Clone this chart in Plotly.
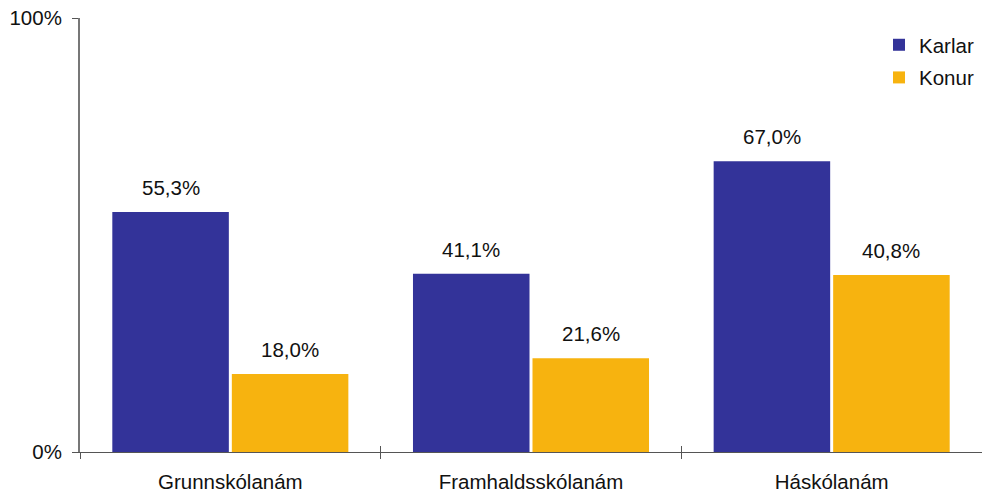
import plotly.graph_objects as go

categories = ["Grunnskólanám", "Framhaldsskólanám", "Háskólanám"]
series_names = ["Karlar", "Konur"]
karlar = [55.3, 41.1, 67.0]
konur = [18.0, 21.6, 40.8]
y_tick_vals = [0, 100]
y_tick_text = ["0%", "100%"]

colors = ["#333399", "#F7B30F"]
FONT = "Liberation Sans, Arial, sans-serif"
FS = 20.5

W, H = 982, 495
M_L, M_R, M_T, M_B = 80, 0, 18, 43
BARGAP = 0.205

def fmt(v):
    return f"{v:.1f}".replace(".", ",") + "%"

fig = go.Figure()
for name, vals, col in zip(series_names, [karlar, konur], colors):
    fig.add_trace(go.Bar(
        x=categories, y=vals, name=name, legendgroup=name,
        marker=dict(color=col, line=dict(width=0)),
        hoverinfo="skip",
    ))

# invisible trace on overlay axis for inner tick marks
fig.add_trace(go.Scatter(x=categories, y=[0, 0, 0], xaxis="x2", yaxis="y",
                         mode="markers", marker=dict(opacity=0), showlegend=False,
                         hoverinfo="skip"))

cat_w = (W - M_L - M_R) / len(categories)
slot = cat_w * (1 - BARGAP) / 2
for vals, sign in [(karlar, -1), (konur, 1)]:
    for c, v in zip(categories, vals):
        fig.add_annotation(x=c, y=v, xref="x", yref="y", text=fmt(v),
                           showarrow=False, xshift=sign * slot / 2,
                           yanchor="bottom", yshift=11,
                           font=dict(family=FONT, size=FS, color="#111111"))

fig.update_layout(
    width=W, height=H,
    margin=dict(l=M_L, r=M_R, t=M_T, b=M_B, pad=0, autoexpand=False),
    paper_bgcolor="white", plot_bgcolor="white",
    barmode="group", bargap=BARGAP, bargroupgap=0.025,
    font=dict(family=FONT, size=FS, color="#111111"),
    showlegend=True,
    legend=dict(x=0.9967, xanchor="right", y=0.984, yanchor="top",
                traceorder="grouped", tracegroupgap=3,
                font=dict(family=FONT, size=FS, color="#111111"),
                bgcolor="rgba(0,0,0,0)"),
    xaxis=dict(type="category", categoryarray=categories, range=[-0.5, 2.5],
               showline=True, linecolor="#555555", linewidth=1,
               ticks="outside", tickson="boundaries", ticklen=6,
               tickcolor="#555555", tickwidth=1, showgrid=False,
               ticklabelstandoff=11, automargin=False,
               tickfont=dict(family=FONT, size=FS, color="#111111")),
    xaxis2=dict(type="category", categoryarray=categories, range=[-0.5, 2.5],
                overlaying="x", anchor="y", side="bottom",
                ticks="inside", tickson="boundaries", ticklen=6,
                tickcolor="#555555", tickwidth=1, showgrid=False,
                showticklabels=False, showline=False),
    yaxis=dict(range=[0, 100], tickvals=y_tick_vals, ticktext=y_tick_text,
               showline=True, linecolor="#777777", linewidth=2,
               ticks="outside", ticklen=6, tickcolor="#555555", tickwidth=1,
               showgrid=False, zeroline=False, ticklabelstandoff=6,
               automargin=False,
               tickfont=dict(family=FONT, size=FS, color="#111111")),
)

fig.write_html("out.html", config={"displayModeBar": False},
               post_script="document.body.style.margin='0';document.body.style.overflow='hidden';")
